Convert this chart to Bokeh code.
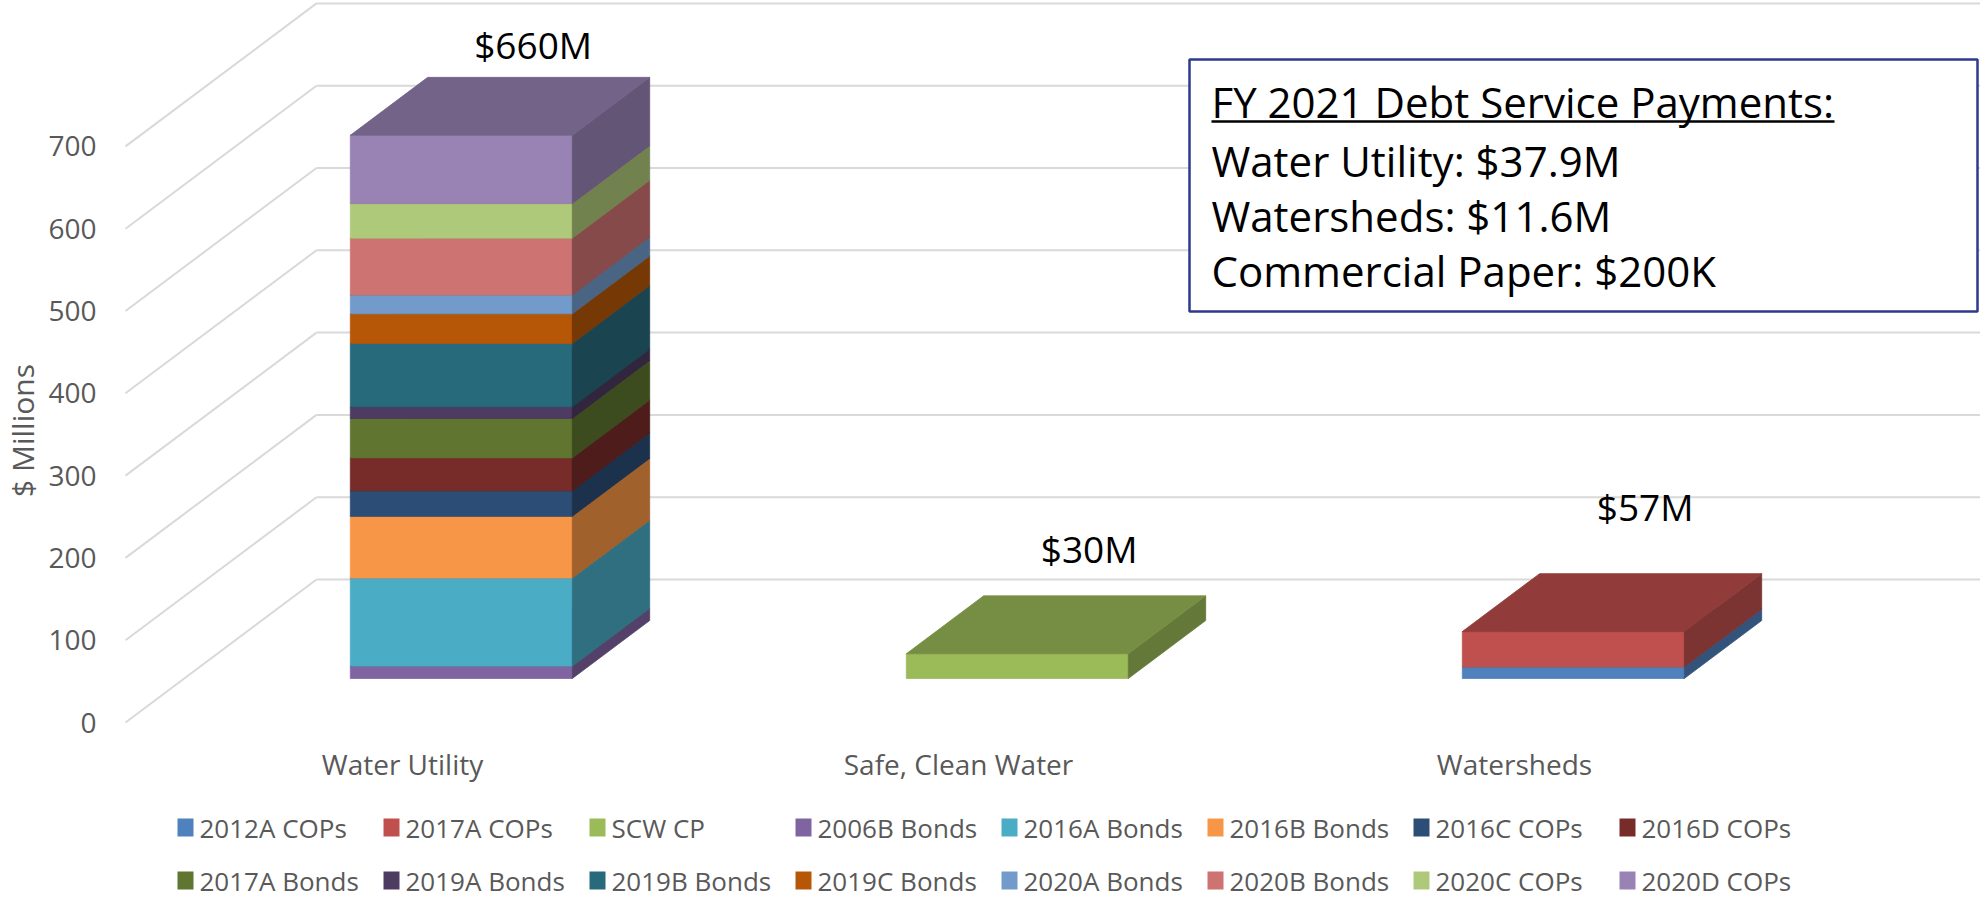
import math
from bokeh.plotting import figure
from bokeh.models import Range1d
from bokeh.core.properties import value
from bokeh.embed import file_html
from bokeh.resources import INLINE

# ---------------- data ----------------
categories = ["Water Utility", "Safe, Clean Water", "Watersheds"]
series_names = ["2012A COPs", "2017A COPs", "SCW CP", "2006B Bonds", "2016A Bonds",
                "2016B Bonds", "2016C COPs", "2016D COPs", "2017A Bonds", "2019A Bonds",
                "2019B Bonds", "2019C Bonds", "2020A Bonds", "2020B Bonds", "2020C COPs",
                "2020D COPs"]
series_colors = ["#4F81BD", "#C0504D", "#9BBB59", "#8064A2", "#4BACC6", "#F79646",
                 "#2C4D75", "#772C2A", "#5F7530", "#4D3B62", "#276A7C", "#B65708",
                 "#729ACA", "#CD7371", "#AFC97A", "#9983B5"]
water_utility = [0, 0, 0, 15, 107, 75, 31, 40, 48, 14, 77, 36, 23, 69, 42, 83]
safe_clean_water = [0, 0, 30, 0, 0, 0, 0, 0, 0, 0, 0, 0, 0, 0, 0, 0]
watersheds = [14, 43, 0, 0, 0, 0, 0, 0, 0, 0, 0, 0, 0, 0, 0, 0]
total_labels = ["$660M", "$30M", "$57M"]
y_ticks = [0, 100, 200, 300, 400, 500, 600, 700]
y_title = "$ Millions"
box_lines = ["FY 2021 Debt Service Payments:", "Water Utility: $37.9M",
             "Watersheds: $11.6M", "Commercial Paper: $200K"]

values_by_cat = [water_utility, safe_clean_water, watersheds]

# ---------------- layout / projection ----------------
W, H = 1980, 898
PX_PER_CAT = 556.0
CAT0_PX = 402.0
PX_PER_VAL = 0.823
ZERO_PY = 722.0

def px2x(px):
    return (px - CAT0_PX) / PX_PER_CAT

def py2y(py):
    return (ZERO_PY - py) / PX_PER_VAL

DX = 191.0 / PX_PER_CAT          # x shift per unit depth
DY = 143.0 / PX_PER_VAL          # y shift (value units) per unit depth
D1, D2 = 0.308, 0.713            # bar front / back depth
HW = 111.0 / PX_PER_CAT          # half bar width
WALL_X = px2x(125)               # left wall x at depth 0

def proj(x, v, d):
    return x + DX * d, v + DY * d

def shade(hx, f):
    return "#%02x%02x%02x" % tuple(int(int(hx[i:i + 2], 16) * f) for i in (1, 3, 5))

p = figure(width=W, height=H, output_backend="svg", toolbar_location=None,
           x_range=Range1d(px2x(0), px2x(W)), y_range=Range1d(py2y(H), py2y(0)),
           x_axis_location=None, y_axis_location=None, min_border=0)
p.xgrid.visible = False
p.ygrid.visible = False
p.outline_line_color = None
p.background_fill_color = "white"
p.border_fill_color = "white"

GRID = "#D9D9D9"
# back wall gridlines + left wall diagonals
gx0, gy0, gx1, gy1 = [], [], [], []
for t in y_ticks:
    a = proj(WALL_X, t, 0.0)
    b = proj(WALL_X, t, 1.0)
    gx0.append(a[0]); gy0.append(a[1]); gx1.append(b[0]); gy1.append(b[1])
    gx0.append(b[0]); gy0.append(b[1]); gx1.append(px2x(W + 5)); gy1.append(b[1])
p.segment(x0=gx0, y0=gy0, x1=gx1, y1=gy1, line_color=GRID, line_width=2)

# tick labels
p.text(x=[px2x(96)] * len(y_ticks), y=y_ticks, text=[str(t) for t in y_ticks],
       text_font=value("Open Sans"), text_font_size=value("28px"), text_color="#595959",
       text_align="right", text_baseline="middle")

# axis title
p.text(x=[px2x(22)], y=[py2y(430)], text=[y_title], angle=math.pi / 2,
       text_font=value("Open Sans"), text_font_size=value("30px"), text_color="#595959",
       text_align="center", text_baseline="middle")

# category labels
p.text(x=list(range(len(categories))), y=[py2y(763)] * len(categories), text=categories,
       text_font=value("Open Sans"), text_font_size=value("28px"), text_color="#595959",
       text_align="center", text_baseline="middle")

# 3D stacked bars
xs, ys, cols = [], [], []
for i, vals in enumerate(values_by_cat):
    base = 0.0
    L, R = i - HW, i + HW
    for k, v in enumerate(vals):
        if v <= 0:
            continue
        y0, y1 = base, base + v
        c = series_colors[k]
        # front
        fl = proj(L, y0, D1); fr = proj(R, y1, D1)
        xs.append([fl[0], fr[0], fr[0], fl[0]]); ys.append([fl[1], fl[1], fr[1], fr[1]])
        cols.append(c)
        # side
        a = proj(R, y0, D1); b = proj(R, y1, D1); cc = proj(R, y1, D2); d = proj(R, y0, D2)
        xs.append([a[0], b[0], cc[0], d[0]]); ys.append([a[1], b[1], cc[1], d[1]])
        cols.append(shade(c, 0.65))
        # top
        a = proj(L, y1, D1); b = proj(R, y1, D1); cc = proj(R, y1, D2); d = proj(L, y1, D2)
        xs.append([a[0], b[0], cc[0], d[0]]); ys.append([a[1], b[1], cc[1], d[1]])
        cols.append(shade(c, 0.76))
        base = y1
p.patches(xs=xs, ys=ys, fill_color=cols, line_color=cols, line_width=0.8)

# total labels
label_pad_px = [33, 47, 67]
totals = [sum(v) for v in values_by_cat]
lx = [i + DX * D2 - 0.01 for i in range(len(categories))]
ly = [t + DY * D2 + pad / PX_PER_VAL for t, pad in zip(totals, label_pad_px)]
p.text(x=lx, y=ly, text=total_labels, text_font=value("Open Sans"),
       text_font_size=value("37px"), text_color="black", text_align="center",
       text_baseline="middle")

# legend (2 rows x 8 columns)
sw_l, sw_r, sw_b, sw_t, tx, ty = [], [], [], [], [], []
for k, name in enumerate(series_names):
    c, r = k % 8, k // 8
    left = 177 + 206 * c
    cy = 827 + 53 * r
    sw_l.append(px2x(left)); sw_r.append(px2x(left + 16))
    sw_b.append(py2y(cy + 9)); sw_t.append(py2y(cy - 9))
    tx.append(px2x(left + 22)); ty.append(py2y(cy))
p.quad(left=sw_l, right=sw_r, bottom=sw_b, top=sw_t, fill_color=series_colors, line_color=None)
p.text(x=tx, y=ty, text=series_names, text_font=value("Open Sans"),
       text_font_size=value("26px"), text_color="#595959", text_align="left",
       text_baseline="middle")

# info box
p.quad(left=[px2x(1189)], right=[px2x(1977)], bottom=[py2y(311)], top=[py2y(59)],
       fill_color="white", line_color="#2E3A8C", line_width=2.5)
p.text(x=[px2x(1211)] * 4, y=[py2y(v) for v in (101, 160, 215, 270)], text=box_lines,
       text_font=value("Open Sans"), text_font_size=value("42px"), text_color="black",
       text_align="left", text_baseline="middle")
p.segment(x0=[px2x(1211)], y0=[py2y(121)], x1=[px2x(1834)], y1=[py2y(121)],
          line_color="black", line_width=2.5)

open("out.html", "w").write(file_html(p, INLINE))
